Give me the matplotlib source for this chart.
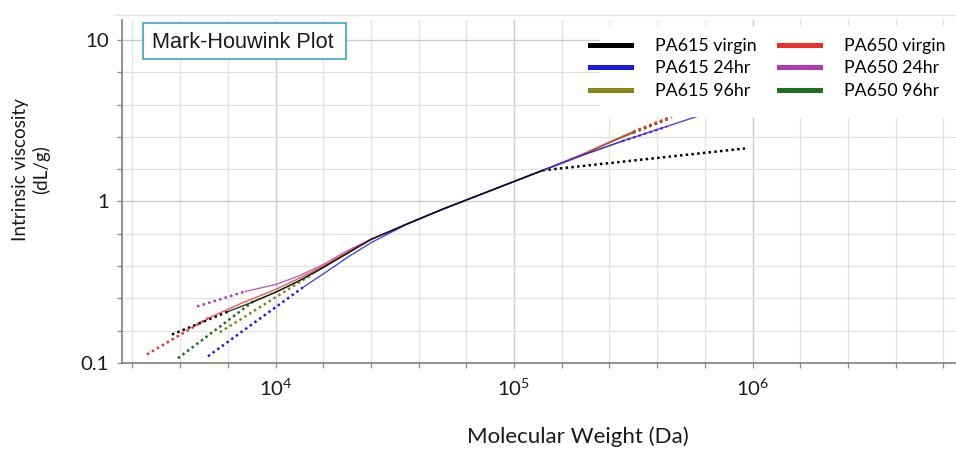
import numpy as np
import matplotlib
matplotlib.use("Agg")
import matplotlib.pyplot as plt
from matplotlib.lines import Line2D
from matplotlib.patches import Rectangle
from matplotlib.ticker import FixedLocator, FixedFormatter, NullFormatter

plt.rcParams['font.family'] = ['Lato', 'DejaVu Sans']

# ---- data: molecular weight (Da) vs intrinsic viscosity (dL/g) ----
series_names = ["PA615 virgin", "PA615 24hr", "PA615 96hr",
                "PA650 virgin", "PA650 24hr", "PA650 96hr"]
series_colors = ["#000000", "#1c1ce0", "#85851a", "#e8322c", "#b03ab0", "#1f6e1f"]

# measured (solid) curves
pa615_virgin_M = [6310, 7940, 10000, 12600, 15850, 19950, 25100, 35500, 50100, 70800, 100000, 132000]
pa615_virgin_eta = [0.208, 0.237, 0.274, 0.324, 0.391, 0.476, 0.582, 0.724, 0.895, 1.091, 1.330, 1.56]

pa615_24hr_M = [13000, 15850, 19950, 25100, 31600, 35500, 50100, 70800, 100000, 141000, 200000,
                282000, 398000, 562000, 794000]
pa615_24hr_eta = [0.293, 0.356, 0.449, 0.555, 0.661, 0.724, 0.895, 1.091, 1.330, 1.618, 1.968,
                  2.355, 2.786, 3.296, 3.890]

pa615_96hr_M = [14200, 17800, 21400, 25100, 35500, 50100, 70800, 100000, 141000, 200000, 251000, 316000]
pa615_96hr_eta = [0.353, 0.437, 0.513, 0.582, 0.724, 0.895, 1.091, 1.330, 1.618, 2.004, 2.333, 2.710]

pa650_virgin_M = [5210, 7080, 10000, 12600, 15850, 19950, 25100, 35500, 50100, 70800, 100000, 141000,
                  200000, 251000, 316000]
pa650_virgin_eta = [0.189, 0.232, 0.285, 0.335, 0.398, 0.481, 0.582, 0.724, 0.895, 1.091, 1.330, 1.618,
                    1.995, 2.323, 2.692]

pa650_24hr_M = [7450, 10000, 12600, 15850, 19950, 25100, 35500, 50100, 70800, 100000, 141000, 200000, 284000]
pa650_24hr_eta = [0.277, 0.306, 0.347, 0.407, 0.495, 0.582, 0.724, 0.895, 1.091, 1.330, 1.618, 1.968, 2.36]

pa650_96hr_M = [8050, 10000, 12600, 15850, 19950, 25100, 35500, 50100, 70800, 100000, 141000, 200000,
                251000, 316000]
pa650_96hr_eta = [0.240, 0.274, 0.322, 0.389, 0.476, 0.582, 0.724, 0.895, 1.091, 1.330, 1.618, 1.99,
                  2.31, 2.66]

# Mark-Houwink fit extrapolations (dotted), low and high ends
pa615_virgin_lo_M, pa615_virgin_lo_eta = [3680, 6310], [0.150, 0.208]
pa615_virgin_hi_M, pa615_virgin_hi_eta = [132000, 930000], [1.56, 2.13]
pa615_24hr_lo_M, pa615_24hr_lo_eta = [5210, 13000], [0.110, 0.293]
pa615_96hr_lo_M, pa615_96hr_lo_eta = [5850, 14200], [0.155, 0.353]
pa615_96hr_hi_M, pa615_96hr_hi_eta = [316000, 460000], [2.710, 3.36]
pa650_virgin_lo_M, pa650_virgin_lo_eta = [2890, 5210], [0.113, 0.189]
pa650_virgin_hi_M, pa650_virgin_hi_eta = [316000, 455000], [2.692, 3.33]
pa650_24hr_lo_M, pa650_24hr_lo_eta = [4690, 7450], [0.224, 0.277]
pa650_24hr_hi_M, pa650_24hr_hi_eta = [284000, 438000], [2.36, 2.91]
pa650_96hr_lo_M, pa650_96hr_lo_eta = [3900, 8050], [0.107, 0.240]
pa650_96hr_hi_M, pa650_96hr_hi_eta = [316000, 452000], [2.66, 3.28]

x_tick_values = [1e4, 1e5, 1e6]
x_tick_labels = [r"$\mathdefault{10^{4}}$", r"$\mathdefault{10^{5}}$", r"$\mathdefault{10^{6}}$"]
y_tick_values = [0.1, 1, 10]
y_tick_labels = ["0.1", "1", "10"]

solid_curves = [
    (pa615_virgin_M, pa615_virgin_eta),
    (pa615_24hr_M, pa615_24hr_eta),
    (pa615_96hr_M, pa615_96hr_eta),
    (pa650_virgin_M, pa650_virgin_eta),
    (pa650_24hr_M, pa650_24hr_eta),
    (pa650_96hr_M, pa650_96hr_eta),
]
dotted_curves = [
    [(pa615_virgin_lo_M, pa615_virgin_lo_eta), (pa615_virgin_hi_M, pa615_virgin_hi_eta)],
    [(pa615_24hr_lo_M, pa615_24hr_lo_eta)],
    [(pa615_96hr_lo_M, pa615_96hr_lo_eta), (pa615_96hr_hi_M, pa615_96hr_hi_eta)],
    [(pa650_virgin_lo_M, pa650_virgin_lo_eta), (pa650_virgin_hi_M, pa650_virgin_hi_eta)],
    [(pa650_24hr_lo_M, pa650_24hr_lo_eta), (pa650_24hr_hi_M, pa650_24hr_hi_eta)],
    [(pa650_96hr_lo_M, pa650_96hr_lo_eta), (pa650_96hr_hi_M, pa650_96hr_hi_eta)],
]

# ---- figure ----
W, H = 956, 454
fig = plt.figure(figsize=(W / 100, H / 100), dpi=100)
ax = fig.add_axes([122 / W, 1 - 363 / H, 1 - 122 / W, (363 - 20) / H])
ax.set_xscale("log")
ax.set_yscale("log")
ax.set_xlim(10 ** 3.3564, 10 ** 6.8532)
ax.set_ylim(0.1, 10 ** 1.1238)

draw_order = [5, 2, 3, 4, 1, 0]
for i in draw_order:
    c = series_colors[i]
    for (mx, ey) in dotted_curves[i]:
        ax.plot(mx, ey, color=c, lw=1.8, linestyle=(0, (1, 1.3)), zorder=3)
for i in draw_order:
    mx, ey = solid_curves[i]
    ax.plot(mx, ey, color=series_colors[i], lw=1.0, alpha=0.8, zorder=3)

# ticks and grid every 0.2 decade
x_minor = [10 ** e for e in np.round(np.arange(3.4, 6.81, 0.2), 1) if abs(e - round(e)) > 1e-6]
y_minor = [10 ** e for e in np.round(np.arange(-1.0, 1.01, 0.2), 1) if abs(e - round(e)) > 1e-6]
ax.xaxis.set_major_locator(FixedLocator(x_tick_values))
ax.xaxis.set_major_formatter(FixedFormatter(x_tick_labels))
ax.xaxis.set_minor_locator(FixedLocator(x_minor))
ax.xaxis.set_minor_formatter(NullFormatter())
ax.yaxis.set_major_locator(FixedLocator(y_tick_values))
ax.yaxis.set_major_formatter(FixedFormatter(y_tick_labels))
ax.yaxis.set_minor_locator(FixedLocator(y_minor))
ax.yaxis.set_minor_formatter(NullFormatter())

ax.set_axisbelow(True)
ax.grid(which="major", color="#cdcdcd", lw=1.0)
ax.grid(which="minor", color="#e2e2e2", lw=0.9)
for s in ("top", "right"):
    ax.spines[s].set_visible(False)
for s in ("left", "bottom"):
    ax.spines[s].set_color("#808080")
    ax.spines[s].set_linewidth(1.2)
ax.tick_params(which="both", direction="out", length=3.5, width=0.9, color="#8a8a8a",
               labelsize=14.7, labelcolor="#1a1a1a")
ax.tick_params(axis="y", pad=6)
ax.tick_params(axis="x", pad=7)

# axis titles
fig.text(578 / W, 1 - 437 / H, "Molecular Weight (Da)", ha="center", va="center",
         fontsize=16, color="#1a1a1a")
fig.text(31 / W, 1 - 170 / H, "Intrinsic viscosity\n(dL/g)", rotation=90, ha="center",
         va="center", multialignment="center", fontsize=13.6, linespacing=1.15, color="#1a1a1a")

# faint frame line above the plot
fig.add_artist(Line2D([115 / W, 1], [1 - 15 / H, 1 - 15 / H], color="#e2e2e2", lw=1.0))

# chart title box
fig.add_artist(Rectangle((143 / W, 1 - 59 / H), 203 / W, 36 / H, transform=fig.transFigure,
                         fc="white", ec="#4aaec3", lw=1.3, zorder=2))
fig.text(152 / W, 1 - 48.3 / H, "Mark-Houwink Plot", family="Liberation Sans",
         fontsize=15.6, va="baseline", color="#1a1a1a", zorder=3)

# legend panel
fig.add_artist(Rectangle((600 / W, 1 - 117 / H), 356 / W, 90 / H, transform=fig.transFigure,
                         fc="white", ec="none", zorder=2))
handles = [Line2D([], [], color=c, lw=3.6) for c in series_colors]
fig.legend(handles, series_names, ncol=2, frameon=False, loc="upper left",
           bbox_to_anchor=(590 / W, 1 - 38 / H), fontsize=12.8, handlelength=2.3,
           handletextpad=1.35, columnspacing=1.25, labelspacing=0.36, borderpad=0,
           borderaxespad=0)

fig.savefig("out.png", dpi=100)
